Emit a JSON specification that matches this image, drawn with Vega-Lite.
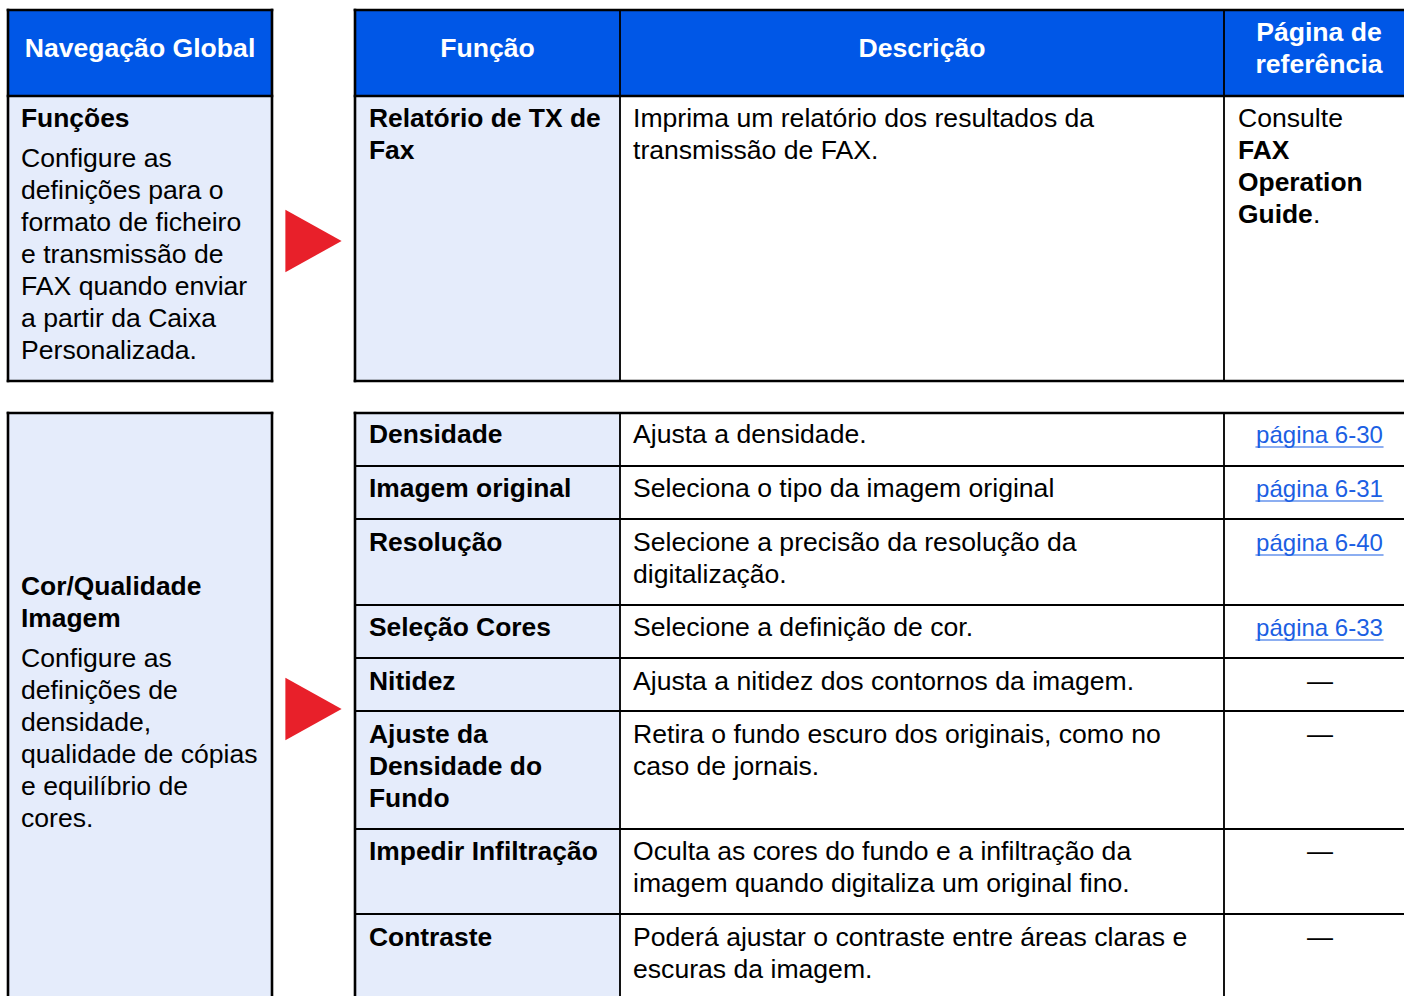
{
  "$schema": "https://vega.github.io/schema/vega-lite/v6.json",
  "autosize": {"type": "none"},
  "width": 1404,
  "height": 996,
  "padding": 0,
  "background": "#ffffff",
  "config": {"view": {"stroke": null}, "text": {"font": "Liberation Sans"}},
  "datasets": {
    "cells": [
      {"left": 8, "right": 272, "top": 10, "bottom": 96, "role": "header"},
      {"left": 8, "right": 272, "top": 96, "bottom": 381, "role": "shade"},
      {"left": 355, "right": 1404, "top": 10, "bottom": 96, "role": "header"},
      {"left": 355, "right": 620, "top": 96, "bottom": 381, "role": "shade"},
      {"left": 8, "right": 272, "top": 413, "bottom": 996, "role": "shade"},
      {"left": 355, "right": 620, "top": 413, "bottom": 996, "role": "shade"}
    ],
    "lines": [
      {"x0": 8, "x1": 272, "y0": 10, "y1": 10, "kind": "thick"},
      {"x0": 8, "x1": 272, "y0": 381, "y1": 381, "kind": "thick"},
      {"x0": 8, "x1": 8, "y0": 10, "y1": 381, "kind": "thick"},
      {"x0": 272, "x1": 272, "y0": 10, "y1": 381, "kind": "thick"},
      {"x0": 8, "x1": 272, "y0": 96, "y1": 96, "kind": "thick"},
      {"x0": 620, "x1": 620, "y0": 10, "y1": 381, "kind": "thin"},
      {"x0": 1224, "x1": 1224, "y0": 10, "y1": 381, "kind": "thin"},
      {"x0": 355, "x1": 1404, "y0": 10, "y1": 10, "kind": "thick"},
      {"x0": 355, "x1": 355, "y0": 10, "y1": 381, "kind": "thick"},
      {"x0": 355, "x1": 1404, "y0": 381, "y1": 381, "kind": "thick"},
      {"x0": 355, "x1": 1404, "y0": 96, "y1": 96, "kind": "thick"},
      {"x0": 8, "x1": 272, "y0": 413, "y1": 413, "kind": "thick"},
      {"x0": 8, "x1": 8, "y0": 413, "y1": 996, "kind": "thick"},
      {"x0": 272, "x1": 272, "y0": 413, "y1": 996, "kind": "thick"},
      {"x0": 620, "x1": 620, "y0": 413, "y1": 996, "kind": "thin"},
      {"x0": 1224, "x1": 1224, "y0": 413, "y1": 996, "kind": "thin"},
      {"x0": 355, "x1": 1404, "y0": 466, "y1": 466, "kind": "thin"},
      {"x0": 355, "x1": 1404, "y0": 519, "y1": 519, "kind": "thin"},
      {"x0": 355, "x1": 1404, "y0": 605, "y1": 605, "kind": "thin"},
      {"x0": 355, "x1": 1404, "y0": 658, "y1": 658, "kind": "thin"},
      {"x0": 355, "x1": 1404, "y0": 711, "y1": 711, "kind": "thin"},
      {"x0": 355, "x1": 1404, "y0": 829, "y1": 829, "kind": "thin"},
      {"x0": 355, "x1": 1404, "y0": 914, "y1": 914, "kind": "thin"},
      {"x0": 355, "x1": 1404, "y0": 413, "y1": 413, "kind": "thick"},
      {"x0": 355, "x1": 355, "y0": 413, "y1": 996, "kind": "thick"},
      {"x0": 1256, "x1": 1383, "y0": 447, "y1": 447, "kind": "link"},
      {"x0": 1256, "x1": 1383, "y0": 501, "y1": 501, "kind": "link"},
      {"x0": 1256, "x1": 1383, "y0": 555, "y1": 555, "kind": "link"},
      {"x0": 1256, "x1": 1383, "y0": 640, "y1": 640, "kind": "link"}
    ],
    "labels": [
      {"x": 140, "y": 57, "txt": "Navegação Global", "kind": "head"},
      {"x": 487.5, "y": 57, "txt": "Função", "kind": "head"},
      {"x": 922, "y": 57, "txt": "Descrição", "kind": "head"},
      {"x": 1319, "y": 41, "txt": "Página de\nreferência", "kind": "head"},
      {"x": 21, "y": 127, "txt": "Funções", "kind": "bold"},
      {"x": 21, "y": 167, "txt": "Configure as\ndefinições para o\nformato de ficheiro\ne transmissão de\nFAX quando enviar\na partir da Caixa\nPersonalizada.", "kind": "body"},
      {"x": 369, "y": 127, "txt": "Relatório de TX de\nFax", "kind": "bold"},
      {"x": 633, "y": 127, "txt": "Imprima um relatório dos resultados da\ntransmissão de FAX.", "kind": "body"},
      {"x": 1238, "y": 127, "txt": "Consulte", "kind": "body"},
      {"x": 1238, "y": 159, "txt": "FAX\nOperation\nGuide", "kind": "bold"},
      {"x": 1313, "y": 223, "txt": ".", "kind": "body"},
      {"x": 21, "y": 595, "txt": "Cor/Qualidade\nImagem", "kind": "bold"},
      {"x": 21, "y": 667, "txt": "Configure as\ndefinições de\ndensidade,\nqualidade de cópias\ne equilíbrio de\ncores.", "kind": "body"},
      {"x": 369, "y": 443, "txt": "Densidade", "kind": "bold"},
      {"x": 633, "y": 443, "txt": "Ajusta a densidade.", "kind": "body"},
      {"x": 1319.5, "y": 443, "txt": "página 6-30", "kind": "link"},
      {"x": 369, "y": 497, "txt": "Imagem original", "kind": "bold"},
      {"x": 633, "y": 497, "txt": "Seleciona o tipo da imagem original", "kind": "body"},
      {"x": 1319.5, "y": 497, "txt": "página 6-31", "kind": "link"},
      {"x": 369, "y": 551, "txt": "Resolução", "kind": "bold"},
      {"x": 633, "y": 551, "txt": "Selecione a precisão da resolução da\ndigitalização.", "kind": "body"},
      {"x": 1319.5, "y": 551, "txt": "página 6-40", "kind": "link"},
      {"x": 369, "y": 636, "txt": "Seleção Cores", "kind": "bold"},
      {"x": 633, "y": 636, "txt": "Selecione a definição de cor.", "kind": "body"},
      {"x": 1319.5, "y": 636, "txt": "página 6-33", "kind": "link"},
      {"x": 369, "y": 690, "txt": "Nitidez", "kind": "bold"},
      {"x": 633, "y": 690, "txt": "Ajusta a nitidez dos contornos da imagem.", "kind": "body"},
      {"x": 1320, "y": 690, "txt": "—", "kind": "dash"},
      {"x": 369, "y": 743, "txt": "Ajuste da\nDensidade do\nFundo", "kind": "bold"},
      {"x": 633, "y": 743, "txt": "Retira o fundo escuro dos originais, como no\ncaso de jornais.", "kind": "body"},
      {"x": 1320, "y": 743, "txt": "—", "kind": "dash"},
      {"x": 369, "y": 860, "txt": "Impedir Infiltração", "kind": "bold"},
      {"x": 633, "y": 860, "txt": "Oculta as cores do fundo e a infiltração da\nimagem quando digitaliza um original fino.", "kind": "body"},
      {"x": 1320, "y": 860, "txt": "—", "kind": "dash"},
      {"x": 369, "y": 946, "txt": "Contraste", "kind": "bold"},
      {"x": 633, "y": 946, "txt": "Poderá ajustar o contraste entre áreas claras e\nescuras da imagem.", "kind": "body"},
      {"x": 1320, "y": 946, "txt": "—", "kind": "dash"}
    ],
    "arrows": [
      {"x": 313.5, "y": 241, "section": "Funções"},
      {"x": 313.5, "y": 709, "section": "Cor/Qualidade Imagem"}
    ]
  },
  "layer": [
    {
      "data": {"name": "cells"},
      "mark": {"type": "rect", "strokeWidth": 0},
      "encoding": {
        "x": {"field": "left", "type": "quantitative", "scale": {"domain": [0, 1404], "nice": false, "zero": false}, "axis": null},
        "x2": {"field": "right"},
        "y": {"field": "top", "type": "quantitative", "scale": {"domain": [0, 996], "nice": false, "zero": false, "reverse": true}, "axis": null},
        "y2": {"field": "bottom"},
        "fill": {"field": "role", "type": "nominal", "scale": {"domain": ["header", "shade"], "range": ["#0057E7", "#E5ECFB"]}, "legend": null}
      }
    },
    {
      "data": {"name": "lines"},
      "mark": {"type": "rule", "strokeCap": "square"},
      "encoding": {
        "x": {"field": "x0", "type": "quantitative", "axis": null},
        "x2": {"field": "x1"},
        "y": {"field": "y0", "type": "quantitative", "axis": null},
        "y2": {"field": "y1"},
        "color": {"field": "kind", "type": "nominal", "scale": {"domain": ["thick", "thin", "link"], "range": ["#000000", "#000000", "#1B5FE3"]}, "legend": null},
        "strokeWidth": {"field": "kind", "type": "nominal", "scale": {"domain": ["thick", "thin", "link"], "range": [2.6, 1.1, 1.6]}, "legend": null}
      }
    },
    {
      "data": {"name": "arrows"},
      "mark": {"type": "point", "shape": "M-0.9,-1L0.9,0L-0.9,1Z", "filled": true, "fill": "#E8202A", "stroke": null, "size": 3900, "opacity": 1},
      "encoding": {
        "x": {"field": "x", "type": "quantitative", "axis": null},
        "y": {"field": "y", "type": "quantitative", "axis": null}
      }
    },
    {
      "data": {"name": "labels"},
      "transform": [{"filter": "datum.kind == 'head'"}],
      "mark": {"type": "text", "align": "center", "baseline": "alphabetic", "fontSize": 26.6, "fontWeight": "bold", "color": "#ffffff", "lineBreak": "\n", "lineHeight": 32},
      "encoding": {
        "x": {"field": "x", "type": "quantitative", "axis": null},
        "y": {"field": "y", "type": "quantitative", "axis": null},
        "text": {"field": "txt", "type": "nominal"}
      }
    },
    {
      "data": {"name": "labels"},
      "transform": [{"filter": "datum.kind == 'bold'"}],
      "mark": {"type": "text", "align": "left", "baseline": "alphabetic", "fontSize": 26.4, "fontWeight": "bold", "color": "#000000", "lineBreak": "\n", "lineHeight": 32},
      "encoding": {
        "x": {"field": "x", "type": "quantitative", "axis": null},
        "y": {"field": "y", "type": "quantitative", "axis": null},
        "text": {"field": "txt", "type": "nominal"}
      }
    },
    {
      "data": {"name": "labels"},
      "transform": [{"filter": "datum.kind == 'body'"}],
      "mark": {"type": "text", "align": "left", "baseline": "alphabetic", "fontSize": 26.6, "color": "#000000", "lineBreak": "\n", "lineHeight": 32},
      "encoding": {
        "x": {"field": "x", "type": "quantitative", "axis": null},
        "y": {"field": "y", "type": "quantitative", "axis": null},
        "text": {"field": "txt", "type": "nominal"}
      }
    },
    {
      "data": {"name": "labels"},
      "transform": [{"filter": "datum.kind == 'link'"}],
      "mark": {"type": "text", "align": "center", "baseline": "alphabetic", "fontSize": 24, "color": "#1B5FE3"},
      "encoding": {
        "x": {"field": "x", "type": "quantitative", "axis": null},
        "y": {"field": "y", "type": "quantitative", "axis": null},
        "text": {"field": "txt", "type": "nominal"}
      }
    },
    {
      "data": {"name": "labels"},
      "transform": [{"filter": "datum.kind == 'dash'"}],
      "mark": {"type": "text", "align": "center", "baseline": "alphabetic", "fontSize": 26, "color": "#000000"},
      "encoding": {
        "x": {"field": "x", "type": "quantitative", "axis": null},
        "y": {"field": "y", "type": "quantitative", "axis": null},
        "text": {"field": "txt", "type": "nominal"}
      }
    }
  ]
}
